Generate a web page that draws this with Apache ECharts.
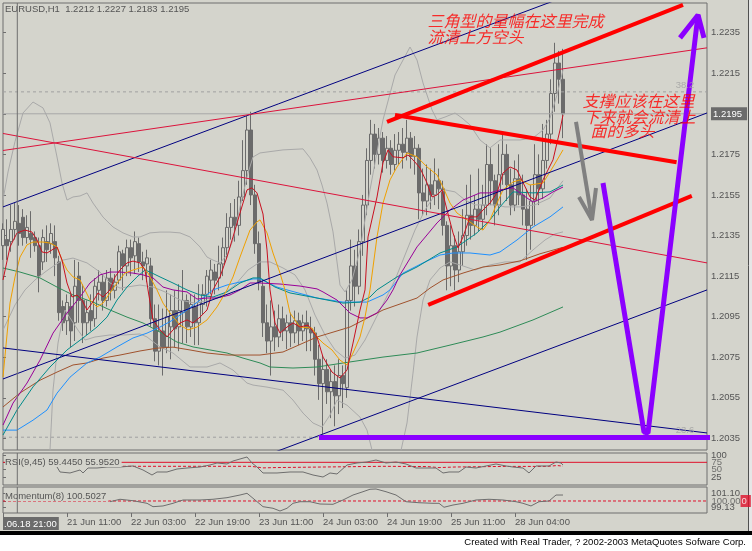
<!DOCTYPE html>
<html><head><meta charset="utf-8">
<script src="https://cdn.jsdelivr.net/npm/echarts@6/dist/echarts.min.js"></script>
<style>html,body{margin:0;padding:0;background:#fff}#c{width:752px;height:551px}</style>
</head><body><div id="c"></div>
<script>
const BG = '#d4d4cc', FRAME = '#6e6e6e', TXT = '#555555', CANDLE = '#6b6b6b';
const FONT = 'Liberation Sans', CJK = 'Noto Sans CJK SC';

// ---- price candles (H1 EURUSD) ----
const opens = [1.2130,1.2133,1.2132,1.2138,1.2141,1.2144,1.2134,1.2136,1.2134,1.2130,1.2122,1.2132,1.2131,1.2132,1.2122,1.2100,1.2093,1.2100,1.2092,1.2115,1.2103,1.2092,1.2098,1.2094,1.2108,1.2112,1.2103,1.2114,1.2108,1.2113,1.2126,1.2120,1.2129,1.2125,1.2131,1.2122,1.2121,1.2120,1.2094,1.2078,1.2088,1.2080,1.2090,1.2098,1.2090,1.2097,1.2103,1.2090,1.2100,1.2092,1.2101,1.2106,1.2113,1.2117,1.2114,1.2121,1.2129,1.2139,1.2144,1.2140,1.2154,1.2167,1.2187,1.2155,1.2131,1.2110,1.2092,1.2083,1.2090,1.2085,1.2094,1.2088,1.2092,1.2087,1.2093,1.2088,1.2092,1.2089,1.2087,1.2074,1.2062,1.2069,1.2058,1.2063,1.2056,1.2066,1.2060,1.2103,1.2120,1.2110,1.2132,1.2150,1.2172,1.2185,1.2175,1.2183,1.2172,1.2178,1.2170,1.2177,1.2180,1.2176,1.2183,1.2174,1.2178,1.2156,1.2152,1.2160,1.2155,1.2162,1.2158,1.2140,1.2120,1.2130,1.2118,1.2127,1.2135,1.2145,1.2140,1.2148,1.2143,1.2150,1.2170,1.2162,1.2150,1.2165,1.2175,1.2160,1.2150,1.2163,1.2155,1.2148,1.2140,1.2152,1.2165,1.2158,1.2172,1.2185,1.2205,1.2220,1.2212];
const highs = [1.2141,1.2143,1.2150,1.2151,1.2150,1.2148,1.2145,1.2147,1.2137,1.2134,1.2138,1.2140,1.2141,1.2140,1.2125,1.2103,1.2106,1.2106,1.2123,1.2122,1.2111,1.2103,1.2106,1.2114,1.2118,1.2116,1.2118,1.2119,1.2116,1.2130,1.2128,1.2133,1.2133,1.2137,1.2134,1.2127,1.2128,1.2124,1.2101,1.2101,1.2099,1.2108,1.2106,1.2108,1.2111,1.2118,1.2106,1.2106,1.2106,1.2111,1.2111,1.2118,1.2123,1.2121,1.2130,1.2134,1.2146,1.2151,1.2153,1.2162,1.2182,1.2194,1.2196,1.2160,1.2137,1.2113,1.2101,1.2103,1.2098,1.2101,1.2100,1.2096,1.2097,1.2098,1.2097,1.2096,1.2098,1.2095,1.2090,1.2081,1.2076,1.2074,1.2069,1.2071,1.2074,1.2071,1.2108,1.2133,1.2128,1.2138,1.2155,1.2178,1.2192,1.2190,1.2188,1.2186,1.2184,1.2182,1.2185,1.2186,1.2188,1.2192,1.2186,1.2184,1.2180,1.2168,1.2170,1.2168,1.2173,1.2168,1.2162,1.2142,1.2140,1.2135,1.2137,1.2148,1.2160,1.2165,1.2155,1.2168,1.2160,1.2180,1.2178,1.2165,1.2180,1.2185,1.2180,1.2168,1.2172,1.2175,1.2165,1.2158,1.2160,1.2180,1.2175,1.2190,1.2192,1.2212,1.2230,1.2226,1.2227];
const lows = [1.2123,1.2123,1.2127,1.2133,1.2130,1.2130,1.2131,1.2124,1.2127,1.2107,1.2118,1.2122,1.2126,1.2115,1.2093,1.2088,1.2086,1.2080,1.2083,1.2092,1.2082,1.2086,1.2088,1.2090,1.2103,1.2098,1.2100,1.2103,1.2104,1.2111,1.2108,1.2115,1.2115,1.2116,1.2117,1.2113,1.2112,1.2090,1.2073,1.2071,1.2066,1.2077,1.2074,1.2080,1.2078,1.2082,1.2082,1.2085,1.2081,1.2081,1.2096,1.2100,1.2106,1.2106,1.2108,1.2115,1.2124,1.2133,1.2132,1.2135,1.2152,1.2160,1.2150,1.2126,1.2108,1.2085,1.2077,1.2066,1.2078,1.2080,1.2083,1.2079,1.2080,1.2082,1.2081,1.2083,1.2078,1.2078,1.2066,1.2054,1.2037,1.2052,1.2045,1.2041,1.2047,1.2050,1.2055,1.2098,1.2100,1.2106,1.2125,1.2145,1.2165,1.2168,1.2170,1.2166,1.2168,1.2165,1.2167,1.2170,1.2168,1.2172,1.2168,1.2165,1.2143,1.2145,1.2145,1.2148,1.2150,1.2148,1.2135,1.2108,1.2110,1.2108,1.2112,1.2120,1.2130,1.2133,1.2135,1.2137,1.2138,1.2145,1.2150,1.2140,1.2145,1.2160,1.2152,1.2145,1.2147,1.2150,1.2140,1.2123,1.2128,1.2140,1.2150,1.2153,1.2168,1.2180,1.2196,1.2200,1.2183];
const closes = [1.2138,1.2130,1.2138,1.2142,1.2136,1.2134,1.2139,1.2133,1.2130,1.2115,1.2134,1.2128,1.2136,1.2124,1.2097,1.2092,1.2102,1.2088,1.2110,1.2103,1.2092,1.2097,1.2093,1.2110,1.2112,1.2103,1.2114,1.2108,1.2112,1.2127,1.2120,1.2129,1.2124,1.2132,1.2122,1.2120,1.2124,1.2094,1.2078,1.2088,1.2080,1.2095,1.2098,1.2089,1.2098,1.2103,1.2090,1.2101,1.2092,1.2102,1.2106,1.2115,1.2118,1.2113,1.2121,1.2129,1.2139,1.2144,1.2140,1.2154,1.2167,1.2187,1.2155,1.2131,1.2112,1.2092,1.2083,1.2090,1.2085,1.2094,1.2088,1.2092,1.2087,1.2093,1.2088,1.2092,1.2089,1.2087,1.2074,1.2062,1.2069,1.2058,1.2063,1.2056,1.2066,1.2062,1.2103,1.2120,1.2110,1.2132,1.2150,1.2172,1.2185,1.2175,1.2183,1.2172,1.2178,1.2170,1.2177,1.2180,1.2176,1.2183,1.2174,1.2178,1.2156,1.2152,1.2160,1.2155,1.2162,1.2158,1.2140,1.2120,1.2130,1.2118,1.2127,1.2135,1.2145,1.2140,1.2148,1.2143,1.2150,1.2170,1.2162,1.2150,1.2165,1.2175,1.2160,1.2150,1.2163,1.2155,1.2148,1.2140,1.2152,1.2165,1.2158,1.2172,1.2185,1.2205,1.2220,1.2212,1.2195];

// ---- indicator lines: [bar, price] ----
const maRed = [[0,1.21131],[1.75,1.21294],[3.5,1.21363],[5.5,1.21377],[7.25,1.21367],[8.5,1.21328],[9.75,1.21269],[11,1.21264],[12.25,1.21279],[13.5,1.21294],[14.75,1.21229],[16,1.21116],[17.25,1.21047],[18.5,1.21057],[19.75,1.21032],[21,1.20983],[22.25,1.21017],[23.75,1.21067],[25,1.21047],[26.75,1.21082],[28,1.21146],[29.25,1.21180],[31,1.21215],[32.5,1.21224],[34.25,1.21215],[35.5,1.21180],[36.25,1.21082],[37.5,1.20934],[39.25,1.20885],[41,1.20850],[42.5,1.20885],[44.25,1.20919],[46,1.20934],[47.5,1.20919],[49.25,1.20948],[51,1.20983],[52.5,1.21082],[54.25,1.21146],[56,1.21244],[57.5,1.21343],[59.25,1.21461],[61,1.21575],[62.25,1.21585],[63.5,1.21560],[65,1.21456],[66,1.21279],[66.75,1.21082],[68,1.20919],[69.25,1.20869],[71,1.20899],[72.5,1.20919],[74.25,1.20899],[76.25,1.20909],[78.5,1.20850],[80,1.20751],[82.25,1.20677],[84.25,1.20648],[86,1.20687],[87.5,1.20820],[89.25,1.20983],[90.5,1.21082],[91.25,1.21343],[93.5,1.21540],[95,1.21708],[96.25,1.21772],[97.5,1.21738],[100,1.21733],[101.25,1.21747],[102.5,1.21723],[104.25,1.21683],[106,1.21609],[107.25,1.21540],[108.5,1.21550],[109.75,1.21575],[111,1.21476],[112.5,1.21363],[113.75,1.21289],[115,1.21343],[116.75,1.21442],[118.5,1.21442],[120,1.21476],[121.75,1.21510],[123.5,1.21560],[125,1.21658],[126.75,1.21688],[128.5,1.21673],[131.75,1.21540],[133,1.21525],[135,1.21624],[137.5,1.21723],[139.25,1.21870],[140,1.21944]];
const maOrange = [[0,1.20653],[1.75,1.21017],[3,1.21146],[4.25,1.21244],[6,1.21304],[7.5,1.21318],[10,1.21318],[11.75,1.21313],[13.5,1.21294],[14.75,1.21229],[16,1.21180],[17.5,1.21146],[19.25,1.21131],[20.5,1.21082],[21.75,1.21032],[23.5,1.20998],[25,1.21017],[26.75,1.21067],[28.5,1.21116],[30.5,1.21165],[32.5,1.21180],[35,1.21195],[36.25,1.21165],[38.5,1.21082],[40,1.21017],[41.75,1.20968],[44.25,1.20909],[46.25,1.20885],[48.5,1.20899],[51,1.20934],[53.5,1.20998],[56,1.21082],[57.5,1.21146],[59.25,1.21244],[61.75,1.21377],[63.5,1.21417],[64.25,1.21427],[66,1.21363],[67.5,1.21264],[69.25,1.21165],[70.5,1.21082],[71.75,1.20968],[74.25,1.20899],[77.25,1.20894],[78.5,1.20850],[80,1.20820],[82.25,1.20786],[84.25,1.20736],[86,1.20712],[87.5,1.20771],[89.25,1.20850],[90.5,1.20948],[91.75,1.21082],[93.5,1.21343],[95,1.21510],[96.75,1.21624],[98.5,1.21688],[101,1.21757],[103.5,1.21738],[106,1.21688],[108.5,1.21649],[110,1.21589],[111.75,1.21510],[113.5,1.21461],[116,1.21427],[118.5,1.21392],[120,1.21377],[121.75,1.21427],[123.5,1.21510],[125,1.21575],[127.5,1.21614],[129.25,1.21624],[131.75,1.21599],[135,1.21609],[137.5,1.21688],[140,1.21772]];
const maPurple = [[0,1.20416],[2.5,1.20524],[6,1.20623],[9.25,1.20736],[12.5,1.20869],[16,1.20968],[19.25,1.21047],[21.75,1.21116],[24.25,1.21156],[26.75,1.21170],[29.25,1.21170],[32.5,1.21165],[35,1.21156],[37.5,1.21141],[40,1.21096],[42.5,1.21082],[46,1.21072],[48.5,1.21037],[51,1.21042],[53.5,1.21042],[56.75,1.21057],[59.25,1.21082],[61.75,1.21116],[64.25,1.21116],[69.25,1.21111],[74.25,1.21101],[78.5,1.21087],[80,1.21072],[83.5,1.21032],[86.75,1.20968],[89.25,1.20944],[91,1.20944],[93.5,1.20968],[96,1.21032],[97.5,1.21082],[99.25,1.21156],[103.5,1.21294],[108.5,1.21412],[111.75,1.21476],[115,1.21525],[119.25,1.21560],[121.75,1.21560],[124.25,1.21575],[127.5,1.21585],[131,1.21535],[132.5,1.21515],[135,1.21535],[137.5,1.21565],[140,1.21589]];
const maTeal = [[0,1.20367],[3.5,1.20490],[7.5,1.20604],[11.75,1.20702],[16,1.20786],[20,1.20845],[23.5,1.20899],[26,1.20948],[28.5,1.21032],[31,1.21096],[33.5,1.21146],[35.5,1.21180],[36.75,1.21170],[39.25,1.21146],[42.5,1.21116],[46,1.21082],[49.25,1.21057],[52.5,1.21047],[56,1.21072],[59.25,1.21116],[62.5,1.21141],[64.25,1.21141],[68,1.21096],[71.75,1.21067],[78.5,1.21042],[85,1.21017],[89.25,1.21022],[91.75,1.21047],[93.5,1.21082],[98.5,1.21146],[103.5,1.21195],[109.25,1.21264],[113.5,1.21294],[118.5,1.21363],[121.75,1.21427],[124.25,1.21491],[127.5,1.21565],[132.5,1.21560],[136.75,1.21565],[140,1.21599]];
const maBlue = [[0,1.20391],[3.5,1.20391],[7.5,1.20440],[11,1.20490],[13.5,1.20573],[16.75,1.20652],[21,1.20722],[24.25,1.20751],[28.5,1.20801],[32.5,1.20845],[36,1.20869],[39.25,1.20899],[42.5,1.20934],[46,1.20983],[49.25,1.21032],[52.5,1.21082],[56,1.21106],[59.25,1.21121],[62.5,1.21136],[64.25,1.21136],[68.5,1.21096],[71,1.21082],[78.5,1.21042],[85,1.21022],[91,1.21022],[95,1.21057],[96.75,1.21082],[100,1.21165],[105,1.21215],[109.25,1.21254],[112.5,1.21264],[116.75,1.21264],[121.75,1.21254],[124.25,1.21269],[128.5,1.21328],[132.5,1.21392],[136.75,1.21442],[140,1.21491]];
const maSienna = [[0,1.20505],[4.25,1.20574],[9.25,1.20637],[13.5,1.20677],[17.5,1.20712],[21,1.20722],[25,1.20746],[29.25,1.20761],[34.25,1.20781],[38.5,1.20795],[42.5,1.20800],[46.75,1.20786],[51,1.20771],[56,1.20761],[61,1.20761],[64.25,1.20761],[70,1.20776],[78.5,1.20850],[86.75,1.20899],[95,1.20983],[103.5,1.21042],[106.75,1.21091],[110,1.21131],[115,1.21165],[120,1.21195],[124.25,1.21205],[129.25,1.21225],[134.25,1.21260],[140,1.21292]];
const maGreen = [[0,1.21190],[4.25,1.21170],[9.25,1.21141],[13.5,1.21096],[17.5,1.21057],[22.5,1.21022],[26.75,1.20983],[31,1.20948],[35,1.20919],[39.25,1.20874],[43.5,1.20825],[47.5,1.20801],[51.75,1.20786],[56,1.20771],[60,1.20746],[64.25,1.20722],[66.75,1.20702],[72.5,1.20697],[78.5,1.20702],[86.75,1.20727],[95,1.20751],[103.5,1.20771],[111.75,1.20810],[120,1.20850],[124.25,1.20874],[132.5,1.20934],[140,1.20998]];
const bbUpper = [[0,1.21525],[1.25,1.21663],[3,1.21813],[5,1.21954],[7.5,1.22008],[10,1.21979],[11.75,1.21905],[13.5,1.21737],[14.75,1.21609],[16,1.21525],[17.5,1.21540],[19.25,1.21545],[21,1.21560],[22.5,1.21510],[25,1.21441],[27.5,1.21392],[30,1.21363],[32.5,1.21343],[34.25,1.21343],[36.75,1.21363],[39.25,1.21367],[41.75,1.21367],[44.25,1.21363],[46.75,1.21343],[49.25,1.21294],[51,1.21244],[52.5,1.21229],[54.25,1.21215],[56,1.21254],[57.5,1.21328],[59.25,1.21491],[61.25,1.21658],[62.5,1.21737],[64.25,1.21757],[70,1.21772],[75,1.21777],[76.75,1.21733],[78.5,1.21673],[79.75,1.21599],[81,1.21510],[82.5,1.21368],[83.5,1.21220],[84.25,1.21106],[85.5,1.21072],[87.25,1.21131],[89.25,1.21279],[91.75,1.21575],[95,1.21920],[98,1.22141],[101.75,1.22279],[103.5,1.22215],[105,1.22102],[107.25,1.21969],[108.5,1.21920],[110.5,1.21934],[113,1.21954],[114.75,1.21929],[116.75,1.21895],[119.25,1.21821],[121.75,1.21782],[124.25,1.21821],[129.25,1.21821],[132.5,1.21831],[135,1.21870],[136.75,1.21929],[138.5,1.22043],[140,1.22166]];
const bbMiddle = [[0,1.20884],[3,1.21008],[5.5,1.21082],[8,1.21131],[10.5,1.21170],[13,1.21205],[15,1.21229],[17.5,1.21239],[21,1.21215],[24.25,1.21170],[26.75,1.21116],[29.25,1.21091],[34.25,1.21106],[37.5,1.21096],[40.5,1.21072],[44.25,1.21032],[48,1.21017],[51.75,1.21032],[54.75,1.21057],[58,1.21106],[61.25,1.21180],[64.25,1.21220],[66.75,1.21220],[70,1.21190],[73,1.21156],[75.5,1.21082],[78,1.20958],[80.5,1.20860],[83,1.20786],[85.5,1.20746],[88,1.20761],[90.5,1.20835],[93,1.20934],[95.5,1.21032],[98,1.21131],[100.5,1.21254],[103,1.21377],[105.5,1.21476],[108,1.21550],[110.5,1.21575],[113,1.21565],[115.5,1.21525],[118,1.21501],[120.5,1.21501],[123,1.21501],[125.5,1.21491],[129.25,1.21491],[133,1.21501],[136.75,1.21535],[140,1.21620]];
const bbLower = [[0,1.19750],[9.25,1.19898],[11,1.20145],[11.75,1.20293],[12.5,1.20588],[13.75,1.20820],[14.75,1.20924],[15.5,1.20983],[16.75,1.20944],[18.75,1.20884],[20.5,1.20835],[23,1.20850],[26.75,1.20860],[30.5,1.20860],[34.25,1.20865],[36,1.20850],[39.25,1.20801],[42.5,1.20771],[46.75,1.20702],[51,1.20702],[54.25,1.20722],[57.5,1.20687],[61,1.20623],[62.5,1.20613],[66,1.20603],[70,1.20588],[72.5,1.20539],[75,1.20475],[77.5,1.20426],[79.75,1.20406],[81.75,1.20465],[83.5,1.20539],[86,1.20514],[89.25,1.20455],[91,1.20391],[92.25,1.20293],[94.25,1.20095],[96.75,1.20046],[99.25,1.20268],[101,1.20426],[102.5,1.20672],[103.5,1.20850],[105,1.21032],[106.75,1.21131],[109.25,1.21190],[111.75,1.21220],[114.25,1.21205],[118,1.21180],[121.75,1.21205],[125.5,1.21220],[129.25,1.21220],[132.5,1.21279],[135.5,1.21328],[138,1.21358],[140,1.21368]];

// ---- drawn objects: [bar, price] ----
const chanUpper = [[0,1.21491],[176,1.22789]];
const chanMid = [[0,1.20643],[176,1.21954]];
const chanLower = [[0,1.19780],[176,1.21082]];
const navyDown = [[0,1.20796],[176,1.20377]];
const crimsonUp = [[0,1.21769],[176,1.22275]];
const crimsonDown = [[0,1.21853],[176,1.21215]];
const triUpper = [[96,1.21910],[170,1.22487]];
const triMiddle = [[98,1.21944],[168.4,1.21711]];
const triLower = [[106.3,1.21008],[172.2,1.21545]];
const grayArrow = [[143.25,1.21910],[147.25,1.21427]];
const grayArrowHead = [[144,1.21540],[147.25,1.21427],[148.25,1.21584]];
const purpleBase = [[79,1.20354],[178.5,1.20354]];
const purpleV = [[150,1.21609],[160.25,1.20381],[161.25,1.20377],[173.75,1.22437]];
const purpleHead = [[169.25,1.22324],[173.75,1.22437],[175.25,1.22324]];
const fibLevels = [1.22058, 1.20356];
const fibNames = ['38.2', '23.6'];
const fibLabelBar = 170.5;
const bidPrice = 1.2195;
const vLineBar = 3.575;
const notes = [
  {text:'三角型的量幅在这里完成', bar:106, price:1.22408},
  {text:'流清上方空头', bar:106, price:1.22329},
  {text:'支撑应该在这里', bar:144.75, price:1.22013},
  {text:'下来就会流清上', bar:145, price:1.21934},
  {text:'面的多头', bar:146.75, price:1.21865}
];

// ---- sub windows ----
const rsiLine = [[13.5,59.0],[14.25,42.0],[16.75,38.6],[19.25,48.8],[20,38.6],[21.25,55.6],[23.5,55.6],[26,59.0],[29.25,59.0],[32.5,62.5],[35,48.8],[37.25,31.7],[38.5,42.0],[41,42.0],[43.5,52.2],[46,55.6],[49.25,59.0],[51.75,65.9],[53.5,72.7],[56,69.3],[57.5,79.5],[59.25,86.3],[61,93.2],[62.25,72.7],[63.5,59.0],[65,38.6],[68.5,38.6],[71.75,42.0],[75,42.0],[77.5,31.7],[80,24.9],[81.75,38.6],[83.5,35.2],[86,65.9],[88.5,72.7],[91,76.1],[93.25,82.9],[95.75,72.7],[98.25,76.1],[100.75,69.3],[103.25,55.6],[105.75,55.6],[108.25,55.6],[110,38.6],[111.5,42.0],[114,42.0],[115.75,59.0],[118.25,55.6],[120.75,62.5],[123.25,69.3],[125.75,62.5],[127.5,59.0],[130,55.6],[131.5,38.6],[133.25,62.5],[136.5,62.5],[138.25,76.1],[139.5,72.7],[140,65.9]];
const rsiSignal = [[30,61.4],[62,61.4],[65,56],[68,57],[80,59],[95,61.4],[106,60.5],[109,57],[113,59],[125,61],[136,61],[138.5,64],[140,62]];
const rsiLevel = 75;
const rsiTicks = [100, 75, 50, 25];
const rsiEdgeLabels = [100, 25];
const rsiInnerLabels = [75, 50];
const momLine = [[26.75,99.90],[29.25,100.24],[32.5,100.04],[36,99.68],[37.5,99.21],[40,99.31],[42.5,99.68],[45,100.14],[49.25,100.14],[52.5,100.24],[56,100.46],[59.25,100.83],[61,101.07],[62.5,100.38],[65,99.21],[67.5,98.99],[69.25,98.61],[71,98.99],[72.5,99.68],[74.25,99.90],[76.75,99.90],[79.25,99.58],[82.5,99.54],[85,100.14],[87.5,100.83],[90,101.29],[91.75,101.63],[93.25,101.67],[95.75,101.29],[98.25,100.83],[100.75,99.90],[104,99.76],[107.5,99.68],[109,99.68],[110.25,99.13],[112.5,99.44],[115,99.68],[118.25,100.14],[121.5,100.24],[125,100.14],[128.25,99.90],[130,99.68],[132,99.31],[134,99.90],[136.5,100.00],[138.25,100.83],[140,100.83]];
const momLevel = 100;
const momTicks = [101.10, 100.00, 99.13];
const momEdgeLabels = [101.10, 99.13];

// ---- axes ticks ----
const priceTicks = [1.2235,1.2215,1.2195,1.2175,1.2155,1.2135,1.2115,1.2095,1.2075,1.2055,1.2035];
const timeTickBars = [0,16,32,48,64,80,96,112,128];
const timeTickText = ['.06.18 21:00','21 Jun 11:00','22 Jun 03:00','22 Jun 19:00','23 Jun 11:00','24 Jun 03:00','24 Jun 19:00','25 Jun 11:00','28 Jun 04:00'];
const titleMain = 'EURUSD,H1  1.2212 1.2227 1.2183 1.2195';
const titleRsi = 'RSI(9,45) 59.4450 55.9520';
const titleMom = 'Momentum(8) 100.5027';
const footer = 'Created with Real Trader, ? 2002-2003 MetaQuotes Sofware Corp.';

const NB = 177, LAST = 176;
const priceMin = 1.20293, priceMax = 1.22496;
const rsiMin = -2.4, rsiMax = 106.8;
const momMin = 98.333, momMax = 101.944;

const candleData = opens.map((o, i) => [o, closes[i], lows[i], highs[i]]);
const cats = Array.from({length: NB}, (_, i) => String(i));

function ln(data, color, width, z, extra) {
  return Object.assign({type:'line', xAxisIndex:1, yAxisIndex:0, data:data, symbol:'none', silent:true,
    animation:false, lineStyle:{color:color, width:width}, z:z, emphasis:{disabled:true}}, extra || {});
}
function textMarks(xi, yi, data, label, z) {
  return {type:'scatter', xAxisIndex:xi, yAxisIndex:yi, symbolSize:1, silent:true, z:z || 6,
    itemStyle:{color:'rgba(0,0,0,0)'}, data:data, label:Object.assign({show:true, formatter:p => p.name}, label)};
}
const small = {fontFamily: FONT, fontSize: 9.5, color: TXT};

const series = [];
series.push({type:'candlestick', xAxisIndex:0, yAxisIndex:0, data:candleData, barWidth:3, silent:true, z:2,
  itemStyle:{color:BG, color0:CANDLE, borderColor:CANDLE, borderColor0:CANDLE, borderWidth:1}});
[bbUpper, bbMiddle, bbLower].forEach(d => series.push(ln(d, '#a9a9a9', 1, 3)));
[[maGreen,'#2e8b57'],[maSienna,'#a0522d'],[maBlue,'#1e90ff'],[maTeal,'#008b8b'],[maPurple,'#990099'],[maOrange,'#f0a000'],[maRed,'#c81020']]
  .forEach(p => series.push(ln(p[0], p[1], 1, 3)));
fibLevels.forEach(v => series.push(ln([[0,v],[LAST,v]], '#a0a0a0', 1, 3, {lineStyle:{color:'#a0a0a0', width:1, type:[3,3]}})));
series.push(ln([[0,bidPrice],[LAST,bidPrice]], '#a8a8a8', 1, 3));
[chanUpper, chanMid, chanLower, navyDown].forEach(d => series.push(ln(d, '#000080', 1, 4)));
[crimsonUp, crimsonDown].forEach(d => series.push(ln(d, '#dc143c', 1, 4)));
[triUpper, triMiddle, triLower].forEach(d => series.push(ln(d, '#ff0000', 4, 5)));
[grayArrow, grayArrowHead].forEach(d => series.push(ln(d, '#808080', 4, 5)));
series.push(ln(purpleBase, '#8b00ff', 5, 5, {clip:false}));
[purpleV, purpleHead].forEach(d => series.push(ln(d, '#8b00ff', 5, 5)));
series.push(textMarks(1, 0, notes.map(n => ({value:[n.bar, n.price], name:n.text})),
  {position:'right', distance:0, color:'#ff0000', fontSize:16, fontStyle:'italic', fontFamily:CJK}));
series.push(textMarks(1, 0, fibLevels.map((v, k) => ({value:[fibLabelBar, v], name:fibNames[k]})),
  {position:'top', distance:1, color:'#a0a0a0', fontSize:9.5, fontFamily:FONT}));
// vertical line through all windows
series.push(ln([[vLineBar, priceMin],[vLineBar, priceMax]], FRAME, 1, 9));
series.push(ln([[vLineBar, rsiMin],[vLineBar, rsiMax]], FRAME, 1, 9, {xAxisIndex:2, yAxisIndex:1}));
series.push(ln([[vLineBar, momMin],[vLineBar, momMax]], FRAME, 1, 9, {xAxisIndex:3, yAxisIndex:2}));
// RSI
series.push(ln([[0,rsiLevel],[LAST,rsiLevel]], '#e0102a', 1, 3, {xAxisIndex:2, yAxisIndex:1}));
series.push(ln(rsiSignal, '#e0102a', 1, 3, {xAxisIndex:2, yAxisIndex:1, lineStyle:{color:'#e0102a', width:1, type:[3,2]}}));
series.push(ln(rsiLine, '#6e6e6e', 1, 4, {xAxisIndex:2, yAxisIndex:1}));
series.push(textMarks(2, 1, rsiInnerLabels.map(v => ({value:[LAST, v], name:String(v)})),
  {position:'right', distance:4, color:TXT, fontSize:9.5, fontFamily:FONT}));
// Momentum
series.push(ln([[0,momLevel],[LAST,momLevel]], '#e0102a', 1, 3, {xAxisIndex:3, yAxisIndex:2, lineStyle:{color:'#e0102a', width:1, type:[3,2]}}));
series.push(ln(momLine, '#6e6e6e', 1, 4, {xAxisIndex:3, yAxisIndex:2}));
series.push(textMarks(3, 2, [{value:[LAST, momLevel], name:momLevel.toFixed(2)}],
  {position:'right', distance:4, fontSize:9.5, fontFamily:FONT, formatter:p => '{n|' + p.name + '}{r|0}',
   rich:{n:{color:TXT, fontFamily:FONT, fontSize:9.5},
         r:{backgroundColor:'#e0102a', color:'#ffffff', padding:[1,4,1,1], fontFamily:FONT, fontSize:9.5}}}));

const gridBase = {left:3, width:704, show:true, borderColor:FRAME, borderWidth:1, backgroundColor:'transparent'};
const hiddenX = g => ({type:'value', gridIndex:g, min:0, max:LAST, show:false, splitLine:{show:false}});

const option = {
  animation: false,
  backgroundColor: BG,
  graphic: [
    {type:'rect', shape:{x:748, y:0, width:4, height:531}, style:{fill:'#e6e6e6'}},
    {type:'line', shape:{x1:748.5, y1:0, x2:748.5, y2:531}, style:{stroke:'#505050', lineWidth:1}},
    {type:'rect', shape:{x:0, y:531, width:752, height:4}, style:{fill:'#000000'}},
    {type:'rect', shape:{x:0, y:535, width:752, height:16}, style:{fill:'#ffffff'}}
  ],
  title: [
    {text:titleMain, left:5, top:4, padding:0, z:8, textStyle:Object.assign({fontWeight:'normal'}, small)},
    {text:titleRsi, left:5, top:457, padding:[0,2,0,0], backgroundColor:BG, z:8, textStyle:Object.assign({fontWeight:'normal'}, small)},
    {text:titleMom, left:5, top:491, padding:[0,2,0,0], backgroundColor:BG, z:8, textStyle:Object.assign({fontWeight:'normal'}, small)},
    {text:footer, right:6, top:537, padding:0, textStyle:{fontFamily:FONT, fontSize:9.5, fontWeight:'normal', color:'#000000'}}
  ],
  grid: [
    Object.assign({top:3, height:447}, gridBase),
    Object.assign({top:453, height:32}, gridBase),
    Object.assign({top:487, height:26}, gridBase)
  ],
  xAxis: [
    {type:'category', gridIndex:0, data:cats, boundaryGap:false, show:false, splitLine:{show:false}},
    hiddenX(0),
    hiddenX(1),
    {type:'value', gridIndex:2, min:0, max:LAST, position:'bottom', splitLine:{show:false},
      axisLine:{show:false},
      axisTick:{show:true, customValues:timeTickBars, length:4, lineStyle:{color:FRAME}},
      axisLabel:{show:true, customValues:timeTickBars, showMinLabel:true, showMaxLabel:true, align:'left', margin:4, fontFamily:FONT, fontSize:9.5, color:TXT,
        formatter: v => { const k = timeTickBars.indexOf(Math.round(v)); const t = k >= 0 ? timeTickText[k] : '';
          return k === 0 ? '{hl|' + t + '}' : t; },
        rich:{hl:{backgroundColor:'#6b6b6b', color:'#ffffff', padding:[2,2,1,1], fontFamily:FONT, fontSize:9.5}}}}
  ],
  yAxis: [
    {type:'value', gridIndex:0, position:'right', min:priceMin, max:priceMax, splitLine:{show:false}, axisLine:{show:false},
      axisTick:{show:true, customValues:priceTicks, length:3, lineStyle:{color:FRAME}},
      axisLabel:{customValues:priceTicks, showMinLabel:true, showMaxLabel:true, margin:4, fontFamily:FONT, fontSize:9.5, color:TXT,
        formatter: v => Math.abs(v - bidPrice) < 1e-7 ? '{cur|' + v.toFixed(4) + '}' : v.toFixed(4),
        rich:{cur:{backgroundColor:'#6b6b6b', color:'#ffffff', padding:[2,5,1,2], fontFamily:FONT, fontSize:9.5}}}},
    {type:'value', gridIndex:1, position:'right', min:rsiMin, max:rsiMax, splitLine:{show:false}, axisLine:{show:false},
      axisTick:{show:true, customValues:rsiTicks, length:3, lineStyle:{color:FRAME}},
      axisLabel:{customValues:rsiEdgeLabels, showMinLabel:true, showMaxLabel:true, margin:4, fontFamily:FONT, fontSize:9.5, color:TXT, formatter: v => String(v)}},
    {type:'value', gridIndex:2, position:'right', min:momMin, max:momMax, splitLine:{show:false}, axisLine:{show:false},
      axisTick:{show:true, customValues:momTicks, length:3, lineStyle:{color:FRAME}},
      axisLabel:{customValues:momEdgeLabels, showMinLabel:true, showMaxLabel:true, margin:4, fontFamily:FONT, fontSize:9.5, color:TXT,
        formatter: v => v.toFixed(2)}}
  ],
  series: series
};
const chart = echarts.init(document.getElementById('c'), null, {renderer:'canvas'});
chart.setOption(option);
</script></body></html>
